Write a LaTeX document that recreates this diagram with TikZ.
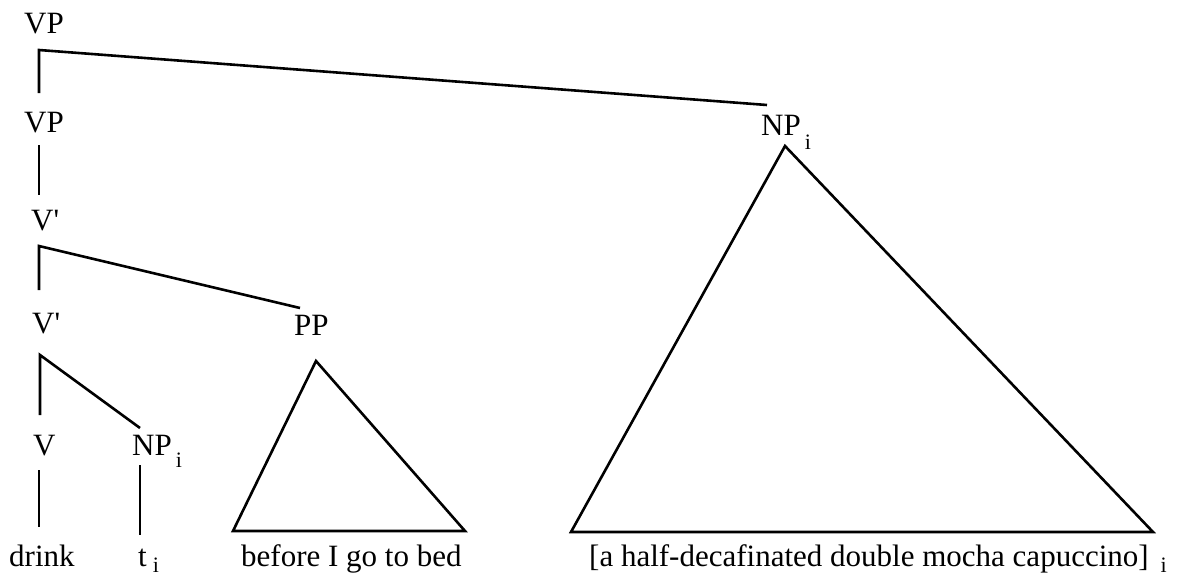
\documentclass[tikz,border=0pt]{standalone}
\usepackage{fontspec}
\setmainfont{Liberation Serif}
\newcommand{\subi}[2]{\kern#1\raisebox{#2}{\fontsize{22}{22}\selectfont i}}
\begin{document}
\begin{tikzpicture}[x=1pt,y=-1pt,
  lab/.style={anchor=base west,inner sep=0pt,font=\fontsize{31}{31}\selectfont},
  branch/.style={line width=2.6pt,line cap=butt,line join=miter}]
\useasboundingbox (0,0) rectangle (1178,576);
% labels
\node[lab] (vp1) at (24,33) {VP};
\node[lab] (vp2) at (24,132) {VP};
\node[lab] (vbar1) at (31,230) {V\textquotesingle};
\node[lab] (vbar2) at (32,333) {V\textquotesingle};
\node[lab] (pp) at (294,335) {PP};
\node[lab] (v) at (33,455) {V};
\node[lab] (np1) at (132,455) {NP\subi{4pt}{-12pt}};
\node[lab] (np2) at (761,135) {NP\subi{4pt}{-14pt}};
\node[lab] (drink) at (9,566) {drink};
\node[lab] (t) at (138,566) {t\subi{6pt}{-6pt}};
\node[lab] (before) at (241,566) {before I go to bed};
\node[lab] (capu) at (589,566) {[a half-decafinated double mocha capuccino]\subi{12pt}{-6pt}};
% branch points
\coordinate (vp1b) at (39,50);
\coordinate (vp2t) at (39,93);
\coordinate (np2t) at (767,105);
\coordinate (vp2b) at (39,145);
\coordinate (vbar1t) at (39,195);
\coordinate (vbar1b) at (39,246);
\coordinate (vbar2t) at (39,290);
\coordinate (ppt) at (300,308);
\coordinate (vbar2b) at (40,355);
\coordinate (vt) at (40,415);
\coordinate (np1t) at (140,428);
\coordinate (vb) at (39,470);
\coordinate (drinkt) at (39,527);
\coordinate (np1b) at (140,465);
\coordinate (tt) at (140,535);
\coordinate (ppa) at (316,361);
\coordinate (ppl) at (233,531);
\coordinate (ppr) at (465,531);
\coordinate (npa) at (785,146);
\coordinate (npl) at (571,532);
\coordinate (npr) at (1153,532);
% branches
\draw[branch] (vp2t) -- (vp1b) -- (np2t);
\draw[branch] (vp2b) -- (vbar1t);
\draw[branch] (vbar2t) -- (vbar1b) -- (ppt);
\draw[branch] (vt) -- (vbar2b) -- (np1t);
\draw[branch] (vb) -- (drinkt);
\draw[branch] (np1b) -- (tt);
\draw[branch] (ppa) -- (ppl) -- (ppr) -- cycle;
\draw[branch] (npa) -- (npl) -- (npr) -- cycle;
\end{tikzpicture}
\end{document}
